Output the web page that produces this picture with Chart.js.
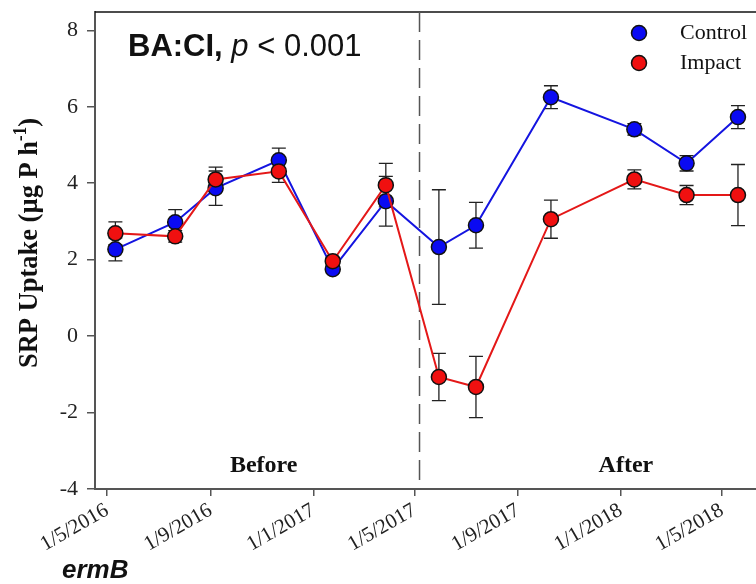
<!DOCTYPE html>
<html>
<head>
<meta charset="utf-8">
<script src="https://cdn.jsdelivr.net/npm/chart.js@4.4.0/dist/chart.umd.min.js"></script>
<style>
  html, body { margin: 0; padding: 0; background: #fff; }
  #wrap { width: 756px; height: 584px; }
</style>
</head>
<body>
<div id="wrap"><canvas id="myChart" width="756" height="584"></canvas></div>
<script>
// sampling dates (figure shows them as d/m/yyyy)
const sampleDates = ['2016-05-11', '2016-07-21', '2016-09-07', '2016-11-21', '2017-01-24', '2017-03-28',
                     '2017-05-30', '2017-07-13', '2017-10-10', '2018-01-17', '2018-03-20', '2018-05-20'];
const controlValues = [2.27, 2.98, 3.87, 4.60, 1.75, 3.53, 2.33, 2.90, 6.25, 5.41, 4.52, 5.73];
const controlErrors = [0.30, 0.33, 0.45, 0.32, 0.10, 0.65, 1.50, 0.60, 0.30, 0.15, 0.20, 0.30];
const impactValues = [2.69, 2.61, 4.10, 4.31, 1.96, 3.95, -1.07, -1.33, 3.06, 4.10, 3.69, 3.69];
const impactErrors = [0.30, 0.15, 0.32, 0.29, 0.10, 0.57, 0.62, 0.80, 0.50, 0.25, 0.25, 0.80];

const tickDates = ['2016-05-01', '2016-09-01', '2017-01-01', '2017-05-01', '2017-09-01', '2018-01-01', '2018-05-01'];
const tickLabels = ['1/5/2016', '1/9/2016', '1/1/2017', '1/5/2017', '1/9/2017', '1/1/2018', '1/5/2018'];
const yTicks = [-4, -2, 0, 2, 4, 6, 8];
const impactDate = '2017-05-07';

// days since 1 Jan 2016
const dayOf = s => {
    const [y, m, d] = s.split('-').map(Number);
    return (Date.UTC(y, m - 1, d) - Date.UTC(2016, 0, 1)) / 864e5;
};
const tickDays = tickDates.map(dayOf);

const toPoints = (vals, errs) => vals.map((v, i) => ({ x: dayOf(sampleDates[i]), y: v, err: errs[i] }));

const serif = "'Liberation Serif', 'Times New Roman', serif";
const sans = "'Liberation Sans', Arial, sans-serif";

const errorBars = {
    id: 'errorBars',
    beforeDatasetsDraw(chart) {
        const { ctx, scales: { x, y } } = chart;
        ctx.save();
        ctx.strokeStyle = '#222';
        ctx.lineWidth = 1.3;
        chart.data.datasets.forEach(ds => {
            ds.data.forEach(p => {
                const px = x.getPixelForValue(p.x);
                const top = y.getPixelForValue(p.y + p.err);
                const bot = y.getPixelForValue(p.y - p.err);
                ctx.beginPath();
                ctx.moveTo(px, top); ctx.lineTo(px, bot);
                ctx.moveTo(px - 7, top); ctx.lineTo(px + 7, top);
                ctx.moveTo(px - 7, bot); ctx.lineTo(px + 7, bot);
                ctx.stroke();
            });
        });
        ctx.restore();
    }
};

const extras = {
    id: 'extras',
    beforeDatasetsDraw(chart) {
        const { ctx, chartArea: a, scales: { x } } = chart;
        ctx.save();
        // box top
        ctx.strokeStyle = '#111';
        ctx.lineWidth = 1.5;
        ctx.beginPath();
        ctx.moveTo(a.left, a.top); ctx.lineTo(a.right, a.top);
        ctx.stroke();
        // before / after divider
        const dx = x.getPixelForValue(dayOf(impactDate));
        ctx.strokeStyle = '#555';
        ctx.setLineDash([20, 8]);
        ctx.beginPath();
        ctx.moveTo(dx, a.top); ctx.lineTo(dx, a.bottom);
        ctx.stroke();
        ctx.restore();
    },
    afterDraw(chart) {
        const { ctx, chartArea: a, scales: { x, y } } = chart;
        ctx.save();
        ctx.fillStyle = '#111';
        ctx.textBaseline = 'alphabetic';

        // Before / After
        ctx.font = `bold 24px ${serif}`;
        ctx.textAlign = 'center';
        ctx.fillText('Before', x.getPixelForValue(307), y.getPixelForValue(-3.55));
        ctx.fillText('After', x.getPixelForValue(737), y.getPixelForValue(-3.55));

        // BA:CI, p < 0.001
        ctx.textAlign = 'left';
        let tx = a.left + 33;
        const ty = a.top + 44;
        ctx.font = `bold 31px ${sans}`;
        ctx.fillText('BA:CI, ', tx, ty);
        tx += ctx.measureText('BA:CI, ').width;
        ctx.font = `italic 31px ${sans}`;
        ctx.fillText('p', tx, ty);
        tx += ctx.measureText('p').width;
        ctx.font = `31px ${sans}`;
        ctx.fillText(' < 0.001', tx, ty);

        // legend
        const names = ['Control', 'Impact'];
        chart.data.datasets.slice().sort((p, q) => names.indexOf(p.label) - names.indexOf(q.label)).forEach((ds, i) => {
            const ly = a.top + 21 + i * 30;
            ctx.beginPath();
            ctx.arc(639, ly, 7.5, 0, Math.PI * 2);
            ctx.fillStyle = ds.pointBackgroundColor;
            ctx.fill();
            ctx.lineWidth = 1.5;
            ctx.strokeStyle = '#111';
            ctx.stroke();
            ctx.fillStyle = '#111';
            ctx.font = `22px ${serif}`;
            ctx.textBaseline = 'middle';
            ctx.fillText(ds.label, 680, ly);
        });

        // y axis title with superscript, squeezed to the reference length
        ctx.textBaseline = 'alphabetic';
        ctx.translate(37, 243);
        ctx.rotate(-Math.PI / 2);
        const main = 'SRP Uptake (\u00b5g P h';
        ctx.font = `bold 28px ${serif}`;
        const w1 = ctx.measureText(main).width;
        const w3 = ctx.measureText(')').width;
        ctx.font = `bold 18px ${serif}`;
        const w2 = ctx.measureText('-1').width;
        const total = w1 + w2 + w3;
        ctx.scale(250 / total, 1);
        let sx = -total / 2;
        ctx.font = `bold 28px ${serif}`;
        ctx.fillText(main, sx, 0);
        sx += w1;
        ctx.font = `bold 18px ${serif}`;
        ctx.fillText('-1', sx, -11);
        sx += w2;
        ctx.font = `bold 28px ${serif}`;
        ctx.fillText(')', sx, 0);
        ctx.restore();

        // panel tag
        ctx.save();
        ctx.fillStyle = '#111';
        ctx.font = `italic bold 26px ${sans}`;
        ctx.fillText('ermB', 62, 578);
        ctx.restore();
    }
};

const ctx = document.getElementById('myChart');

const myChart = new Chart(ctx, {
    type: 'line',
    data: {
        datasets: [{
            label: 'Control',
            data: toPoints(controlValues, controlErrors),
            borderColor: '#1414e0',
            borderWidth: 2,
            pointBackgroundColor: '#0a0af2',
            pointBorderColor: '#111',
            pointBorderWidth: 1.5,
            pointRadius: 7.5,
            order: 1
        }, {
            label: 'Impact',
            data: toPoints(impactValues, impactErrors),
            borderColor: '#e41818',
            borderWidth: 2,
            pointBackgroundColor: '#f01010',
            pointBorderColor: '#111',
            pointBorderWidth: 1.5,
            pointRadius: 7.5,
            order: 0
        }]
    },
    options: {
        responsive: false,
        animation: false,
        devicePixelRatio: 1,
        layout: { autoPadding: false, padding: { top: 12, right: 0, left: 0, bottom: 0 } },
        plugins: {
            legend: { display: false },
            tooltip: { enabled: false }
        },
        scales: {
            x: {
                type: 'linear',
                min: 106.8,
                max: 891.4,
                afterFit: s => { s.height = 95; s.paddingLeft = 0; s.paddingRight = 0; },
                afterBuildTicks: s => { s.ticks = tickDays.map(v => ({ value: v })); },
                grid: { drawOnChartArea: false, tickLength: 7, color: '#555', lineWidth: 1.5 },
                border: { color: '#555', width: 2 },
                ticks: {
                    autoSkip: false,
                    minRotation: 30,
                    maxRotation: 30,
                    padding: 2,
                    color: '#222',
                    font: { family: serif, size: 21 },
                    callback: v => tickLabels[tickDays.indexOf(v)]
                }
            },
            y: {
                min: -4,
                max: 8.48,
                afterFit: s => { s.width = 95; s.paddingTop = 0; s.paddingBottom = 0; },
                afterBuildTicks: s => { s.ticks = yTicks.map(v => ({ value: v })); },
                grid: { drawOnChartArea: false, tickLength: 8, color: '#555', lineWidth: 1.5 },
                border: { color: '#555', width: 2 },
                ticks: {
                    padding: 9,
                    color: '#222',
                    font: { family: serif, size: 22 }
                }
            }
        }
    },
    plugins: [errorBars, extras]
});
</script>
</body>
</html>
